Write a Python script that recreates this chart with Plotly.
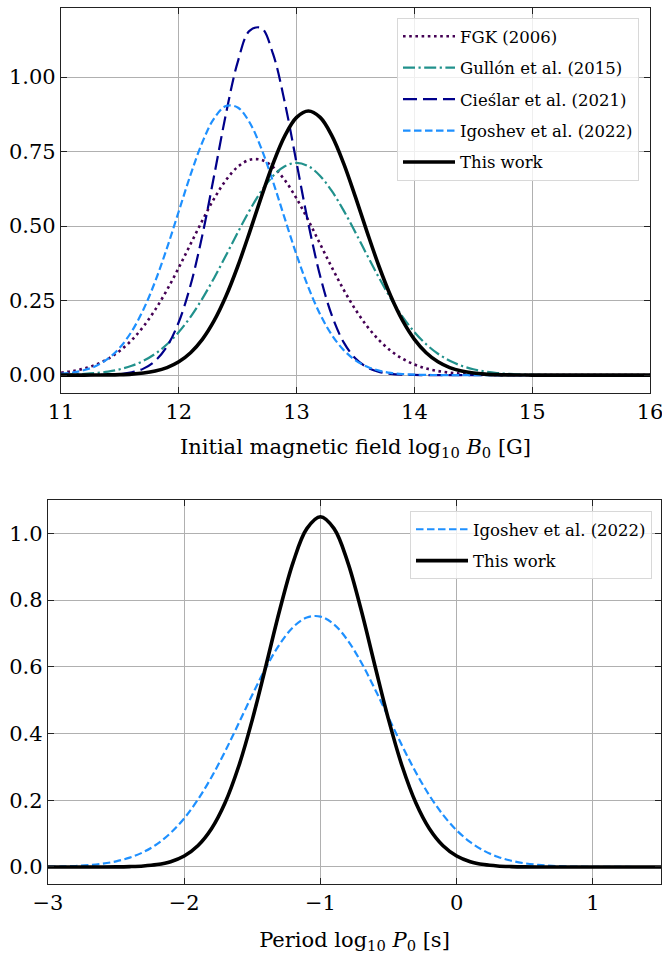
import plotly.graph_objects as go

# ---------------- data ----------------
log_B0 = [round(11.0 + 0.1 * i, 1) for i in range(51)]          # 11.0 ... 16.0

fgk_2006 = [0.0081, 0.0137, 0.0225, 0.0357, 0.0548, 0.0815, 0.1173, 0.1632, 0.2197, 0.2862,
            0.3608, 0.4399, 0.5190, 0.5924, 0.6542, 0.6988, 0.7223, 0.7223, 0.6988, 0.6542,
            0.5924, 0.5190, 0.4399, 0.3608, 0.2862, 0.2197, 0.1632, 0.1173, 0.0815, 0.0548,
            0.0357, 0.0225, 0.0137, 0.0081, 0.0046, 0.0025, 0.0014, 0.0007, 0.0003, 0.0002,
            0.0001] + [0.0] * 10

gullon_2015 = [0.0012, 0.0023, 0.0041, 0.0071, 0.0120, 0.0197, 0.0313, 0.0481, 0.0717, 0.1035,
               0.1446, 0.1958, 0.2568, 0.3262, 0.4013, 0.4782, 0.5520, 0.6172, 0.6684, 0.7011,
               0.7124, 0.7011, 0.6684, 0.6172, 0.5520, 0.4782, 0.4013, 0.3262, 0.2568, 0.1958,
               0.1446, 0.1035, 0.0717, 0.0481, 0.0313, 0.0197, 0.0120, 0.0071, 0.0041, 0.0023,
               0.0012, 0.0006, 0.0003, 0.0001] + [0.0] * 7

cieslar_2021 = [0.0000, 0.0000, 0.0001, 0.0004, 0.0012, 0.0035, 0.0091, 0.0218, 0.0479, 0.0965,
                0.1783, 0.3022, 0.4698, 0.6698, 0.8758, 1.0503, 1.1552, 1.1652, 1.0779, 0.9146,
                0.7116, 0.5078, 0.3324, 0.1995, 0.1098, 0.0555, 0.0257, 0.0109, 0.0042, 0.0015,
                0.0005, 0.0001] + [0.0] * 19

igoshev_2022_B = [0.0043, 0.0088, 0.0171, 0.0316, 0.0555, 0.0925, 0.1466, 0.2204, 0.3148, 0.4270,
                  0.5499, 0.6727, 0.7814, 0.8619, 0.9030, 0.8983, 0.8487, 0.7614, 0.6488, 0.5250,
                  0.4034, 0.2944, 0.2040, 0.1343, 0.0839, 0.0498, 0.0281, 0.0150, 0.0076, 0.0037,
                  0.0017, 0.0007, 0.0003, 0.0001] + [0.0] * 17

this_work_B = [0.0000, 0.0000, 0.0001, 0.0003, 0.0007, 0.0016, 0.0034, 0.0070, 0.0137, 0.0253,
               0.0447, 0.0751, 0.1200, 0.1826, 0.2644, 0.3645, 0.4782, 0.5972, 0.7099, 0.8031,
               0.8649, 0.8865, 0.8649, 0.8031, 0.7099, 0.5972, 0.4782, 0.3645, 0.2644, 0.1826,
               0.1200, 0.0751, 0.0447, 0.0253, 0.0137, 0.0070, 0.0034, 0.0016, 0.0007, 0.0003,
               0.0001] + [0.0] * 10

log_P0 = [round(-3.0 + 0.1 * i, 1) for i in range(46)]           # -3.0 ... 1.5

igoshev_2022_P = [0.0008, 0.0016, 0.0030, 0.0056, 0.0099, 0.0169, 0.0280, 0.0446, 0.0686, 0.1019,
                  0.1459, 0.2018, 0.2692, 0.3466, 0.4307, 0.5165, 0.5976, 0.6674, 0.7192, 0.7479,
                  0.7506, 0.7269, 0.6794, 0.6127, 0.5332, 0.4479, 0.3631, 0.2840, 0.2144, 0.1562,
                  0.1098, 0.0745, 0.0488, 0.0308, 0.0188, 0.0110, 0.0063, 0.0034, 0.0018, 0.0009,
                  0.0005, 0.0002, 0.0001, 0.0, 0.0, 0.0]

this_work_P = [0.0, 0.0, 0.0, 0.0, 0.0001, 0.0004, 0.0012, 0.0030, 0.0072, 0.0159,
               0.0329, 0.0635, 0.1145, 0.1924, 0.3018, 0.4417, 0.6033, 0.7687, 0.9140, 1.0141,
               1.0498, 1.0141, 0.9140, 0.7687, 0.6033, 0.4417, 0.3018, 0.1924, 0.1145, 0.0635,
               0.0329, 0.0159, 0.0072, 0.0030, 0.0012, 0.0004, 0.0001] + [0.0] * 9

top_names = ["FGK (2006)", "Gullón et al. (2015)", "Cieślar et al. (2021)",
             "Igoshev et al. (2022)", "This work"]
bottom_names = ["Igoshev et al. (2022)", "This work"]

x_ticks_top = [11, 12, 13, 14, 15, 16]
y_ticks_top = [0.0, 0.25, 0.5, 0.75, 1.0]
x_ticks_bot = [-3, -2, -1, 0, 1]
y_ticks_bot = [0.0, 0.2, 0.4, 0.6, 0.8, 1.0]

# ---------------- styles ----------------
FONT = "DejaVu Serif"
styles_top = [
    dict(color="#440154", width=2.6, dash="2.6px,3.6px"),
    dict(color="#21918c", width=2.2, dash="12px,3.5px,2.2px,3.5px"),
    dict(color="#00008b", width=2.2, dash="14px,6px"),
    dict(color="#1e90ff", width=2.2, dash="7.5px,3.5px"),
    dict(color="black", width=3.6, dash="solid"),
]
styles_bot = [styles_top[3], styles_top[4]]

fig = go.Figure()
top_series = [fgk_2006, gullon_2015, cieslar_2021, igoshev_2022_B, this_work_B]
for i, (name, ys, st) in enumerate(zip(top_names, top_series, styles_top)):
    fig.add_trace(go.Scatter(
        x=log_B0[:len(ys)], y=ys, mode="lines", name=name,
        line=dict(color=st["color"], width=st["width"], dash=st["dash"],
                  shape="spline", smoothing=1.0),
        xaxis="x", yaxis="y", legend="legend", legendgroup=f"t{i}"))

for i, (name, ys, st) in enumerate(zip(bottom_names, [igoshev_2022_P, this_work_P], styles_bot)):
    fig.add_trace(go.Scatter(
        x=log_P0[:len(ys)], y=ys, mode="lines", name=name,
        line=dict(color=st["color"], width=st["width"], dash=st["dash"],
                  shape="spline", smoothing=1.0),
        xaxis="x2", yaxis="y2", legend="legend2", legendgroup=f"b{i}"))

W, H = 662, 956
axis_common = dict(
    showline=True, linecolor="#222222", linewidth=1.3, mirror="ticks",
    ticks="inside", ticklen=6, tickwidth=1.1, tickcolor="#222222",
    showgrid=True, gridcolor="#b0b0b0", gridwidth=0.8, zeroline=False,
    tickfont=dict(family=FONT, size=21, color="black"),
    ticklabeloverflow="allow",
    automargin=False,
)

fig.update_layout(
    width=W, height=H,
    margin=dict(l=0, r=0, t=0, b=0),
    paper_bgcolor="white", plot_bgcolor="white",
    font=dict(family=FONT, color="black"),
    xaxis=dict(axis_common, domain=[61 / W, 650 / W], range=[11, 16],
               tickvals=x_ticks_top, anchor="y",
               title=dict(text="Initial magnetic field log<sub>10</sub> <i>B</i><sub>0</sub> [G]",
                          font=dict(family=FONT, size=21), standoff=15)),
    yaxis=dict(axis_common, domain=[1 - 393 / H, 1 - 8 / H], range=[-0.06, 1.232],
               tickvals=y_ticks_top, tickformat=".2f", anchor="x"),
    xaxis2=dict(axis_common, domain=[48 / W, 661 / W], range=[-3, 1.5],
                tickvals=x_ticks_bot, anchor="y2",
                title=dict(text="Period log<sub>10</sub> <i>P</i><sub>0</sub> [s]",
                           font=dict(family=FONT, size=21), standoff=17)),
    yaxis2=dict(axis_common, domain=[1 - 884 / H, 1 - 500 / H], range=[-0.051, 1.1],
                tickvals=y_ticks_bot, tickformat=".1f", anchor="x2"),
    legend=dict(x=639 / W, xanchor="right", y=1 - 18 / H, yanchor="top",
                bgcolor="rgba(255,255,255,0.8)", bordercolor="#d8d8d8", borderwidth=1,
                font=dict(family=FONT, size=16.5), traceorder="grouped", tracegroupgap=7,
                itemwidth=52),
    legend2=dict(x=652 / W, xanchor="right", y=1 - 511 / H, yanchor="top",
                 bgcolor="rgba(255,255,255,0.8)", bordercolor="#d8d8d8", borderwidth=1,
                 font=dict(family=FONT, size=16.5), traceorder="grouped", tracegroupgap=7,
                 itemwidth=52),
    showlegend=True,
)

fig.write_html("out.html", config={"displayModeBar": False},
               post_script="document.body.style.margin='0';")
